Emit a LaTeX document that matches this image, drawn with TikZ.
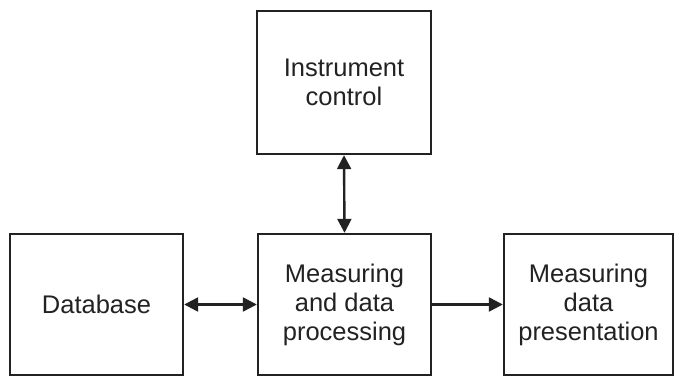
\documentclass[tikz,border=0pt]{standalone}
\usepackage{fontspec}
\setmainfont{Liberation Sans}
\usetikzlibrary{arrows.meta}
\definecolor{ink}{HTML}{222222}
\begin{document}
\begin{tikzpicture}[x=1pt,y=1pt,
  blk/.style={draw=ink,line width=2.4pt,minimum width=#1,align=center,text=ink,
    font=\fontsize{25.5}{29}\selectfont,inner sep=0pt},
  conn/.style={draw=ink,line width=2.4pt,{Triangle[length=14pt,width=14pt]}-{Triangle[length=14pt,width=14pt]}},
  oneway/.style={draw=ink,line width=2.4pt,-{Triangle[length=14pt,width=14pt]}}]
\useasboundingbox (0,0) rectangle (675,376);
\node[blk=174pt,minimum height=143pt] (ic) at (344,293.5) {Instrument\\control};
\node[blk=173pt,minimum height=141pt] (db) at (96.5,71.5) {Database};
\node[blk=173pt,minimum height=141pt] (mp) at (344.5,71.5) {Measuring\\and data\\processing};
\node[blk=169pt,minimum height=141pt] (mdp) at (588.5,71.5) {Measuring\\data\\presentation};
\draw[conn] (db.east) -- (mp.west);
\draw[oneway] (mp.east) -- (mdp.west);
\draw[conn] (ic.south) -- (mp.north);
\end{tikzpicture}
\end{document}
